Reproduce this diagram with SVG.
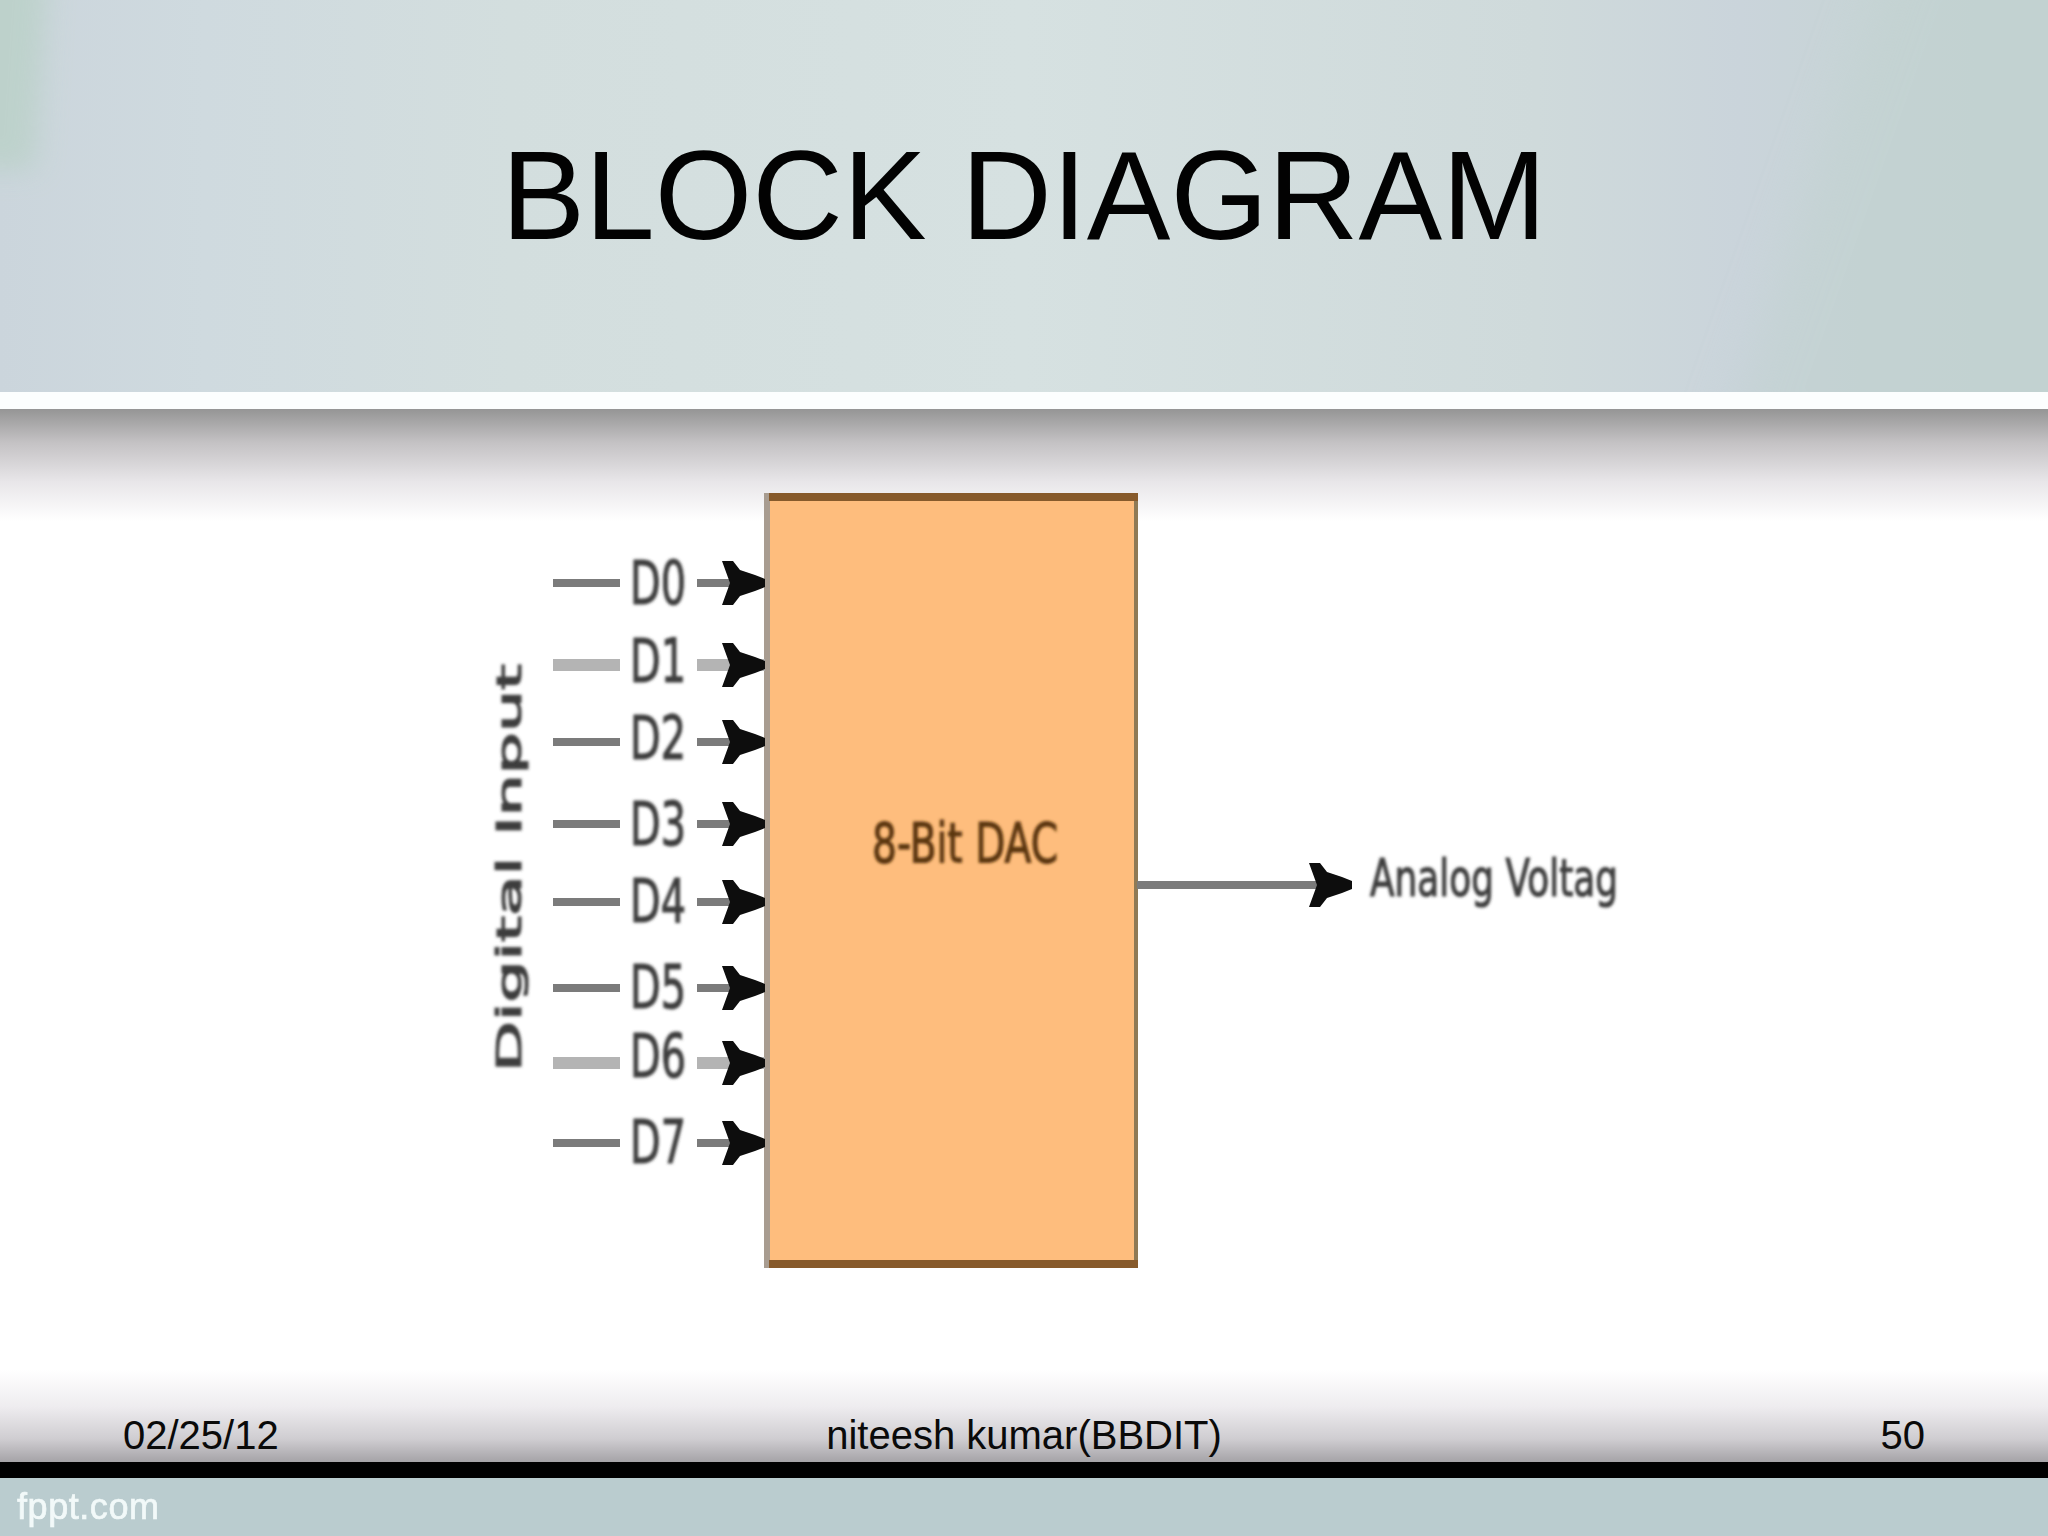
<svg xmlns="http://www.w3.org/2000/svg" width="2048" height="1536" viewBox="0 0 2048 1536">
<defs>
<linearGradient id="hdr" x1="0" y1="0" x2="1" y2="0"><stop offset="0" stop-color="#cbd5dc"/><stop offset="0.1" stop-color="#cfdadf"/><stop offset="0.25" stop-color="#d3dede"/><stop offset="0.5" stop-color="#d6e1e1"/><stop offset="0.75" stop-color="#cfdadb"/><stop offset="0.85" stop-color="#cad4db"/><stop offset="0.93" stop-color="#c6d4d4"/><stop offset="1" stop-color="#c2d2d2"/></linearGradient>
<linearGradient id="top" x1="0" y1="0" x2="0" y2="1"><stop offset="0" stop-color="#959595"/><stop offset="0.3" stop-color="#c4c2c4"/><stop offset="0.65" stop-color="#e8e6e9"/><stop offset="1" stop-color="#fff"/></linearGradient>
<linearGradient id="bot" x1="0" y1="0" x2="0" y2="1"><stop offset="0" stop-color="#fff"/><stop offset="0.4" stop-color="#eeecef"/><stop offset="0.75" stop-color="#cfcdd1"/><stop offset="1" stop-color="#a5a3a7"/></linearGradient>
<filter id="soft" x="-10%" y="-30%" width="120%" height="160%"><feGaussianBlur stdDeviation="1.4"/></filter>
<filter id="tiny" x="-10%" y="-30%" width="120%" height="160%"><feGaussianBlur stdDeviation="0.6"/></filter>
<filter id="haze" x="-30%" y="-30%" width="160%" height="160%"><feGaussianBlur stdDeviation="24"/></filter>
<filter id="haze2" x="-100%" y="-50%" width="300%" height="200%"><feGaussianBlur stdDeviation="14"/></filter>
<marker id="ah" markerUnits="userSpaceOnUse" markerWidth="44" markerHeight="46" refX="43" refY="23" orient="auto"><path d="M0 1 L11 1 L18 10 L33 15 L43 19 L43 27 L33 31 L18 36 L11 45 L0 45 L8 23 Z" fill="#0d0d0d"/></marker>
<clipPath id="hclip"><rect width="2048" height="392"/></clipPath>
</defs>
<style>
.sans{font-family:"Liberation Sans",Arial,sans-serif}
.pix{font-family:"DejaVu Sans",sans-serif;fill:#3c3c3c;stroke:#3c3c3c;stroke-width:1.2}
.foot{font-size:40px;fill:#0a0a0a}
.dl{font-size:60px}
.wire{stroke:#7b7b7b;stroke-width:8;fill:none}
.arrow{stroke:#7b7b7b;stroke-width:8;fill:none;marker-end:url(#ah)}
.pale{stroke:#b4b4b4;stroke-width:12}
</style>
<g id="background">
<rect width="2048" height="1536" fill="#fff"/>
<rect width="2048" height="392" fill="url(#hdr)"/>
<g clip-path="url(#hclip)">
<path d="M-60 -60H50L35 170H-60Z" fill="#bbd1c9" opacity="0.85" filter="url(#haze2)"/>
<path d="M2200 -60H1900L1720 450H2200Z" fill="#c2d2d1" opacity="0.6" filter="url(#haze)"/>
</g>
<rect y="392" width="2048" height="17" fill="#fcfefe"/>
<rect y="409" width="2048" height="112" fill="url(#top)"/>
<rect y="1370" width="2048" height="92" fill="url(#bot)"/>
<rect y="1462" width="2048" height="16" fill="#000"/>
<rect y="1478" width="2048" height="58" fill="#bacccf"/>
</g>
<text id="title" class="sans" x="1024" y="239" font-size="125.4" text-anchor="middle" fill="#020202">BLOCK DIAGRAM</text>
<g id="dac">
<rect x="764" y="493" width="374" height="775" fill="#febd7d"/>
<rect x="764" y="493" width="6" height="775" fill="#a89c90"/>
<rect x="1134" y="493" width="4" height="775" fill="#8f7a55"/>
<rect x="769" y="493" width="369" height="8" fill="#875a2b"/>
<rect x="769" y="1260" width="369" height="8" fill="#875a2b"/>
<text class="pix" x="872" y="862" font-size="56" textLength="186" lengthAdjust="spacingAndGlyphs" style="fill:#5a3510;stroke:#5a3510" filter="url(#soft)">8-Bit DAC</text>
</g>
<g id="connectors">
<path class="wire" d="M553 583H620M553 742H620M553 824H620M553 902H620M553 988H620M553 1143H620"/>
<path class="wire pale" d="M553 665H620M553 1063H620"/>
<path class="arrow" d="M697 583H765"/>
<path class="arrow pale" d="M697 665H765"/>
<path class="arrow" d="M697 742H765"/>
<path class="arrow" d="M697 824H765"/>
<path class="arrow" d="M697 902H765"/>
<path class="arrow" d="M697 988H765"/>
<path class="arrow pale" d="M697 1063H765"/>
<path class="arrow" d="M697 1143H765"/>
<path class="arrow" d="M1137 885H1352"/>
</g>
<g id="labels" filter="url(#soft)">
<g class="pix dl">
<text x="630" y="604" textLength="56" lengthAdjust="spacingAndGlyphs">D0</text>
<text x="630" y="682" textLength="56" lengthAdjust="spacingAndGlyphs">D1</text>
<text x="630" y="759" textLength="56" lengthAdjust="spacingAndGlyphs">D2</text>
<text x="630" y="845" textLength="56" lengthAdjust="spacingAndGlyphs">D3</text>
<text x="630" y="922" textLength="56" lengthAdjust="spacingAndGlyphs">D4</text>
<text x="630" y="1008" textLength="56" lengthAdjust="spacingAndGlyphs">D5</text>
<text x="630" y="1077" textLength="56" lengthAdjust="spacingAndGlyphs">D6</text>
<text x="630" y="1163" textLength="56" lengthAdjust="spacingAndGlyphs">D7</text>
</g>
<text class="pix" x="1370" y="896" font-size="52" textLength="248" lengthAdjust="spacingAndGlyphs">Analog Voltag</text>
<text class="pix" transform="translate(521 1072) rotate(-90)" font-size="34" textLength="408" lengthAdjust="spacingAndGlyphs">Digital Input</text>
</g>
<g id="footer">
<text class="sans foot" x="123" y="1449">02/25/12</text>
<text class="sans foot" x="1024" y="1449" text-anchor="middle">niteesh kumar(BBDIT)</text>
<text class="sans foot" x="1925" y="1449" text-anchor="end">50</text>
<text class="sans" x="17" y="1519" font-size="36" fill="#f2f9f9" stroke="#f2f9f9" stroke-width="0.7" textLength="142" filter="url(#tiny)">fppt.com</text>
</g>
</svg>
